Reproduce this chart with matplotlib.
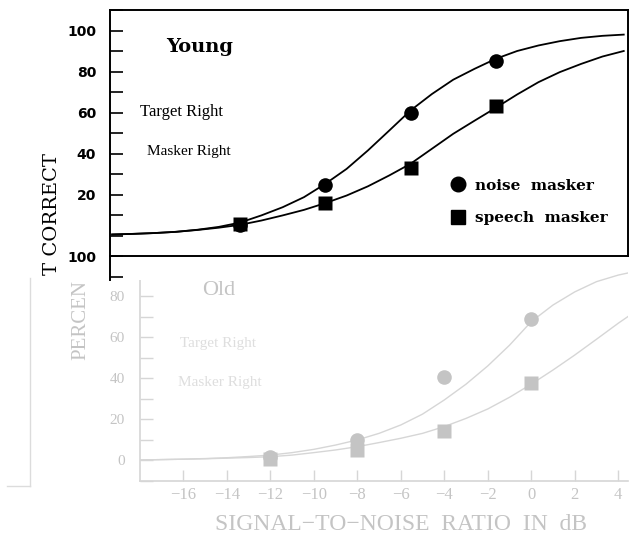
import matplotlib.pyplot as plt
from matplotlib.lines import Line2D
from matplotlib.ticker import MultipleLocator

# measured points (percent correct vs SNR in dB)
snr = [-12, -8, -4, 0]
young_noise = [4.9, 24.4, 60, 85]
young_speech = [5.8, 15.8, 33, 63]
old_noise = [1.5, 10, 40.5, 69]
old_speech = [0.5, 5, 14, 37.5]

# fitted curves, every 1 dB
young_fit_snr = [-18, -17, -16, -15, -14, -13, -12, -11, -10, -9, -8, -7, -6,
                 -5, -4, -3, -2, -1, 0, 1, 2, 3, 4, 5, 6]
young_noise_fit = [0.5, 0.8, 1.2, 1.8, 2.8, 4.2, 6.3, 9.8, 13.8, 18.7, 25.2,
                   32.5, 41.5, 51.2, 61, 69, 76, 81.3, 86.2, 90, 92.7, 94.8,
                   96.4, 97.4, 98]
young_speech_fit = [0.5, 0.8, 1.2, 1.8, 2.7, 3.8, 5.2, 7.3, 9.8, 12.5, 15.8,
                    19.5, 24, 29.3, 35, 42.3, 49.6, 56, 62.3, 68.8, 74.8, 79.7,
                    83.7, 87.3, 90]
old_fit_snr = [-18, -17, -16, -15, -14, -13, -12, -11, -10, -9, -8, -7, -6,
               -5, -4, -3, -2, -1, 0, 1, 2, 3, 4, 5]
old_noise_fit = [0, 0.2, 0.4, 0.7, 1.1, 1.7, 2.4, 3.6, 5.2, 7.3, 9.8, 13, 17.1,
                 22.4, 29.3, 37, 45.9, 56, 67.5, 75.6, 82, 87, 90.2, 92.5]
old_speech_fit = [0, 0.2, 0.4, 0.6, 0.9, 1.2, 1.6, 2.4, 3.6, 4.9, 6.5, 8.5,
                  10.6, 13, 16.3, 20.3, 24.9, 30.6, 37, 43.9, 51.2, 58.9, 66.7,
                  74]

old_xticks = [-16, -14, -12, -10, -8, -6, -4, -2, 0, 2, 4]

W, H = 630, 544
GRAY = '#c4c4c4'
LGRAY = '#d6d6d6'


def box(l, t, r, b):
    return [l / W, 1 - b / H, (r - l) / W, (b - t) / H]


fig = plt.figure(figsize=(6.3, 5.44), dpi=100)

# ---- Old (grey) panel, underneath ----
ax2 = fig.add_axes(box(140, 234.5, 628, 480.5))
ax2.set_zorder(0)
ax2.plot(old_fit_snr, old_noise_fit, color=LGRAY, lw=1.0)
ax2.plot(old_fit_snr, old_speech_fit, color=LGRAY, lw=1.0)
ax2.plot(snr, old_noise, 'o', color=GRAY, ms=10.5, mec='none')
ax2.plot(snr, old_speech, 's', color=GRAY, ms=10.5, mec='none')
ax2.set_xlim(-18, 4.45)
ax2.set_ylim(-10, 110)
for s in ['top', 'right']:
    ax2.spines[s].set_visible(False)
for s in ['left', 'bottom']:
    ax2.spines[s].set_color(LGRAY)
    ax2.spines[s].set_linewidth(1.2)
ax2.set_xticks(old_xticks)
ax2.set_xticklabels([str(v).replace('-', '\u2212') for v in old_xticks],
                    family='Liberation Serif', fontsize=12, color=GRAY)
ax2.set_yticks([0, 20, 40, 60, 80])
ax2.set_yticklabels(['0', '20', '40', '60', '80'],
                    family='Liberation Serif', fontsize=11, color=GRAY)
ax2.yaxis.set_minor_locator(MultipleLocator(10))
ax2.tick_params(axis='y', which='both', direction='in', length=9.4, width=1,
                color=LGRAY, pad=11)
ax2.tick_params(axis='x', direction='in', length=8, width=1, color=LGRAY, pad=5)
ax2.text(0.127, 0.774, 'Old', transform=ax2.transAxes, family='Liberation Serif',
         fontsize=16, color=GRAY, va='center')
ax2.text(0.082, 0.555, 'Target Right', transform=ax2.transAxes,
         family='Liberation Serif', fontsize=11, color='#dedede', va='center')
ax2.text(0.078, 0.40, 'Masker Right', transform=ax2.transAxes,
         family='Liberation Serif', fontsize=11, color='#dedede', va='center')

# ---- Young (black) panel, on top ----
ax1 = fig.add_axes(box(110, 10, 628, 256))
ax1.set_zorder(2)
ax1.set_facecolor('white')
ax1.plot(young_fit_snr, young_noise_fit, color='black', lw=1.3)
ax1.plot(young_fit_snr, young_speech_fit, color='black', lw=1.3)
ax1.plot(snr, young_noise, 'o', color='black', ms=10.5, mec='none')
ax1.plot(snr, young_speech, 's', color='black', ms=10.5, mec='none')
ax1.set_xlim(-18.1, 6.2)
ax1.set_ylim(-10, 110)
for s in ax1.spines.values():
    s.set_linewidth(1.4)
ax1.set_xticks([])
ax1.set_yticks([0, 20, 40, 60, 80, 100])
ax1.set_yticklabels(['', '20', '40', '60', '80', '100'], fontweight='bold',
                    fontsize=10)
ax1.yaxis.set_minor_locator(MultipleLocator(10))
ax1.tick_params(axis='y', which='both', direction='in', length=9.4, width=1.2,
                pad=10)
ax1.text(0.108, 0.85, 'Young', transform=ax1.transAxes, family='DejaVu Serif',
         fontweight='bold', fontsize=14, va='center')
ax1.text(0.058, 0.585, 'Target Right', transform=ax1.transAxes,
         family='Liberation Serif', fontsize=12, va='center')
ax1.text(0.071, 0.425, 'Masker Right', transform=ax1.transAxes,
         family='Liberation Serif', fontsize=11, va='center')
handles = [Line2D([], [], ls='none', marker='o', color='black', ms=10.5),
           Line2D([], [], ls='none', marker='s', color='black', ms=10.5)]
ax1.legend(handles, ['noise  masker', 'speech  masker'], loc='center left',
           bbox_to_anchor=(450 / W, 1 - 202 / H), bbox_transform=fig.transFigure,
           frameon=False, borderpad=0, borderaxespad=0, handlelength=1.0,
           handletextpad=0.65, labelspacing=1.2,
           prop={'family': 'DejaVu Serif', 'weight': 'bold', 'size': 11})

# ---- strip left from the black Old panel ----
ax3 = fig.add_axes(box(110, 256, 585, 280))
ax3.set_zorder(1)
ax3.set_facecolor('white')
ax3.set_ylim(100 - 24 / 2.05, 100)
ax3.set_xticks([])
ax3.set_yticks([90, 100])
ax3.set_yticklabels(['', '100'], fontweight='bold', fontsize=10)
ax3.tick_params(axis='y', direction='in', length=9.4, width=1.2, pad=10)
for s in ['top', 'right', 'bottom']:
    ax3.spines[s].set_visible(False)
ax3.spines['left'].set_linewidth(1.4)

# y label split over the two scans
fig.text(52 / W, 1 - 214 / H, 'T CORRECT', rotation=90, family='DejaVu Serif',
         fontsize=14, ha='center', va='center')
fig.text(81 / W, 1 - 320 / H, 'PERCEN', rotation=90, family='Liberation Serif',
         fontsize=15, color=GRAY, ha='center', va='center')
fig.text(401 / W, 1 - 524 / H, 'SIGNAL\u2212TO\u2212NOISE  RATIO  IN  dB',
         family='Liberation Serif', fontsize=17, color=GRAY, ha='center',
         va='center')

# scanner edge on the left
fig.add_artist(Line2D([30 / W, 30 / W], [1 - 278 / H, 1 - 486 / H],
                      color='#dcdcdc', lw=1))
fig.add_artist(Line2D([7 / W, 30 / W], [1 - 486 / H, 1 - 486 / H],
                      color='#dcdcdc', lw=1))

plt.savefig('out.png', dpi=100)
